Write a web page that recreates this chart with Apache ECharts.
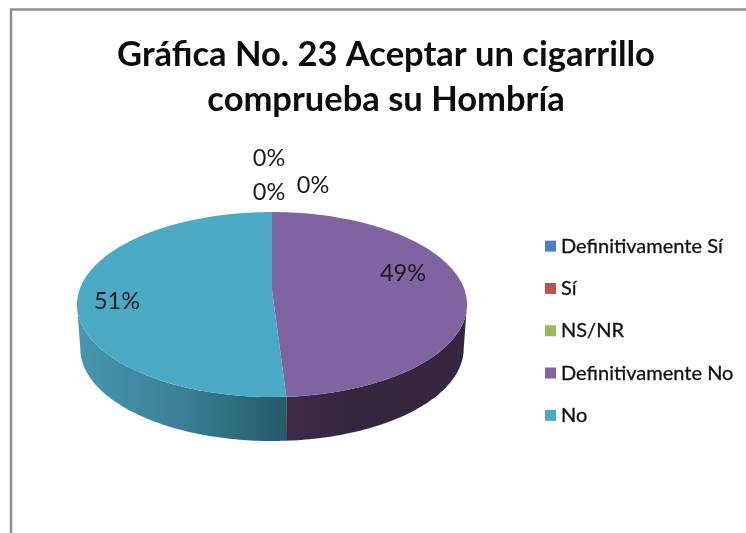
<!DOCTYPE html>
<html>
<head>
<meta charset="utf-8">
<style>html,body{margin:0;padding:0;background:#fff}#chart{width:746px;height:533px}</style>
<script src="https://cdn.jsdelivr.net/npm/echarts@6/dist/echarts.min.js"></script>
</head>
<body>
<div id="chart"></div>
<script>
// Survey answers, in percent
const categories = ['Definitivamente Sí', 'Sí', 'NS/NR', 'Definitivamente No', 'No'];
const values = [0, 0, 0, 49, 51];
const colors = ['#4F81BD', '#C0504D', '#9BBB59', '#8064A2', '#4AA9C4'];
const titleText = 'Gráfica No. 23 Aceptar un cigarrillo\ncomprueba su Hombría';

// Disc geometry: a tilted circle seen with slight perspective
const disc = { x: 272, y: 290, a: 192.6, b: 90.2, p: 0.157, depth: 44, baseScale: 0.983 };
const frontFrom = 99, frontTo = 261; // arc of the rim that faces the viewer

// Wall shading per slice, left to right across the slice
const wallShades = {
  3: [[0, '#3B2B4A'], [0.4, '#33263F'], [1, '#35273F']],
  4: [[0, '#4697B0'], [0.5, '#3A8096'], [1, '#255A69']]
};
// Where each percentage text sits on the canvas
const labelSpots = [[269, 158], [269, 192], [313, 185], [403, 273], [117, 301]];

const total = values.reduce((s, v) => s + v, 0);
const starts = values.map((_, i) => values.slice(0, i).reduce((s, v) => s + v, 0) / total * 360);

function project(deg, lower) {
  const t = deg * Math.PI / 180;
  const u = Math.sin(t), v = -Math.cos(t);
  const w = 1 - disc.p * v;
  const k = lower ? disc.baseScale : 1;
  return [disc.x + k * disc.a * u / w, disc.y + disc.b * v / w + (lower ? disc.depth : 0)];
}
function arc(from, to, lower) {
  const pts = [];
  const n = Math.max(1, Math.ceil(Math.abs(to - from)));
  for (let i = 0; i <= n; i++) pts.push(project(from + (to - from) * i / n, lower));
  return pts;
}

function drawSlice(i, value) {
  const children = [];
  const from = starts[i], to = from + value / total * 360;
  if (value > 0) {
    const a = Math.max(from, frontFrom), b = Math.min(to, frontTo);
    if (b > a) {
      const pts = arc(a, b, false).concat(arc(b, a, true));
      const xs = pts.map(p => p[0]);
      children.push({
        type: 'polygon',
        shape: { points: pts },
        style: {
          fill: {
            type: 'linear', global: true,
            x: Math.min(...xs), y: 0, x2: Math.max(...xs), y2: 0,
            colorStops: wallShades[i].map(s => ({ offset: s[0], color: s[1] }))
          }
        }
      });
    }
    children.push({
      type: 'polygon',
      shape: { points: [[disc.x, disc.y]].concat(arc(from, to, false)) },
      style: { fill: colors[i] }
    });
  }
  children.push({
    type: 'text',
    z2: 50,
    style: {
      text: value + '%',
      x: labelSpots[i][0], y: labelSpots[i][1],
      align: 'center', verticalAlign: 'middle',
      font: '23.5px Lato', fill: '#1c1c1c'
    }
  });
  return { type: 'group', children };
}

const chart = echarts.init(document.getElementById('chart'), null, { renderer: 'canvas' });
chart.setOption({
  backgroundColor: '#fff',
  animation: false,
  title: {
    text: titleText,
    left: 381, top: 27, textAlign: 'center',
    textStyle: { fontFamily: 'Lato', fontSize: 34.5, fontWeight: 'bold', color: '#0c0c0c', lineHeight: 45 }
  },
  legend: {
    orient: 'vertical', left: 540, top: 231,
    itemWidth: 11, itemHeight: 11, itemGap: 22,
    icon: 'rect',
    data: categories,
    textStyle: { fontFamily: 'Lato', fontSize: 20, fontWeight: 'normal', color: '#111', lineHeight: 19, padding: [0, 0, 0, 0], textBorderColor: '#111', textBorderWidth: 0.3 }
  },
  graphic: [
    // Frame of the chart area, open on the right and at the foot
    { type: 'polyline', silent: true, shape: { points: [[11, 540], [11, 9.5], [750, 9.5]] },
      style: { stroke: '#8E8E8E', lineWidth: 2.4, fill: null } }
  ],
  series: categories.map((name, i) => ({
    type: 'custom',
    name,
    coordinateSystem: 'none',
    itemStyle: { color: colors[i] },
    data: [[values[i]]],
    z: i + 2,
    renderItem: (params, api) => drawSlice(i, api.value(0))
  }))
});
</script>
</body>
</html>
